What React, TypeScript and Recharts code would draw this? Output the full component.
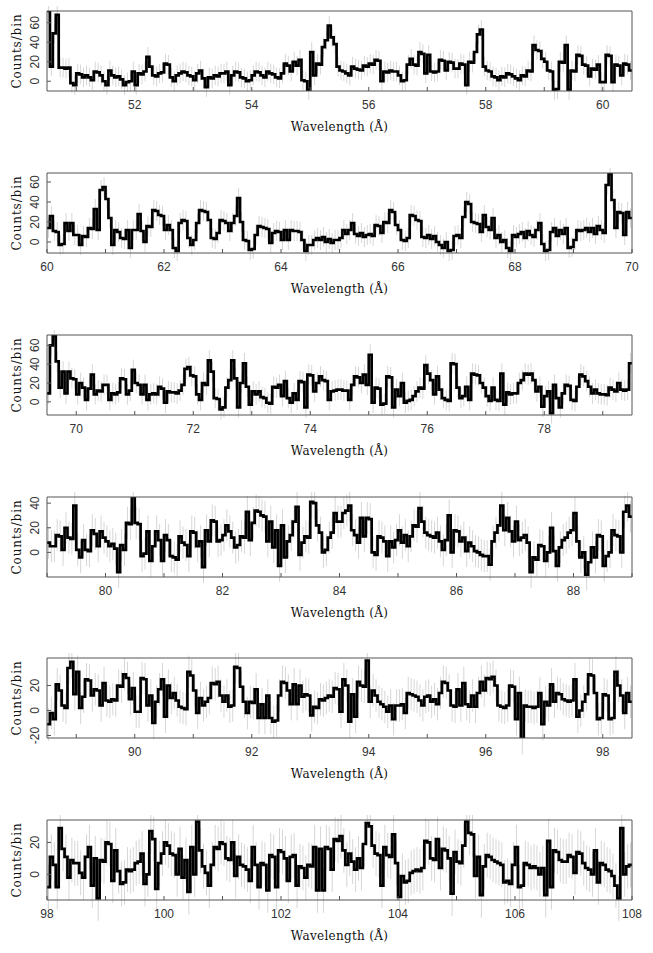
import React from 'react';
import { ComposedChart, Line, XAxis, YAxis, ErrorBar } from 'recharts';

const BIN = 0.05;
const SPAN = 10;

const starts = [50.5, 60, 69.5, 79, 88.5, 98];
const yDomains = [[-10, 72], [-11, 69], [-14, 71], [-20, 45], [-22, 42], [-16, 34]];
const errSizes = [10, 10, 11, 13, 13, 14];
const xLabelTicks = [
  [52, 54, 56, 58, 60],
  [60, 62, 64, 66, 68, 70],
  [70, 72, 74, 76, 78],
  [80, 82, 84, 86, 88],
  [90, 92, 94, 96, 98],
  [98, 100, 102, 104, 106, 108],
];
const yLabelTicks = [[0, 20, 40, 60], [0, 20, 40, 60], [0, 20, 40, 60], [0, 20, 40], [-20, 0, 20], [0, 20]];
const panelTops = [11, 173, 335, 497, 658, 820];

const counts1 = [
  72, 15, 49, 68, 14, 14, 13, 14, -2, -4,
  8, 7, 4, 6, 4, 1, 10, 9, 6, 0,
  -4, 11, 6, 4, 5, 2, -4, -1, 0, 10,
  -4, 8, 7, 10, 25, 15, 6, 5, 8, 9,
  18, 17, 4, 0, 6, 8, 10, 9, 6, 5,
  1, 8, 11, 3, -6, 4, 3, 6, 5, 8,
  8, 10, -4, 6, 10, 9, 4, 3, 0, 1,
  6, 10, 9, 6, 4, 10, 8, 7, 4, 3,
  8, 18, 16, 10, 20, 16, 22, 1, 0, -9,
  30, 6, 18, 17, 35, 42, 57, 45, 38, 15,
  11, 10, 8, 6, 15, 13, 12, 11, 16, 15,
  18, 17, 22, 21, 0, 10, 9, 11, 10, 10,
  6, 0, 1, 17, 23, 17, 16, 30, 28, 8,
  27, 10, 9, 10, 22, 21, 11, 20, 19, 13,
  13, 18, 17, -4, 20, 19, 30, 48, 53, 15,
  11, 10, 5, 4, 1, 5, 4, 8, 7, 5,
  3, 1, 6, 5, 11, 10, 37, 32, 31, 23,
  20, 11, 10, -9, -8, 20, 19, 37, -9, 11,
  10, 27, 26, 17, 16, 5, 13, 12, 17, -1,
  -1, 27, 26, -1, 17, 16, 6, 18, 17, 11,
];
const counts2 = [
  14, 26, 11, 10, -3, -2, 19, 11, 19, 7,
  7, -3, 6, 5, 14, 13, 33, 12, 52, 55,
  43, 24, -3, 12, 10, 4, 3, 12, -6, 12,
  12, 28, 11, 0, 16, 15, 32, 31, 27, 26,
  12, 17, 12, -6, -9, 19, 22, 21, 4, -3,
  2, 19, 32, 31, 30, 22, 4, 3, 9, 22,
  21, 19, 11, 19, 26, 44, 20, 2, 1, -8,
  -7, 7, 16, 15, 14, 13, -1, 9, 11, 10,
  2, 12, 2, 12, 11, 11, 10, 2, -9, -3,
  -3, 2, 4, 2, 5, 0, 3, -1, 2, 2,
  4, 12, 8, 12, 19, 8, 6, 9, 5, 7,
  8, 6, 17, 16, 9, 20, 19, 32, 30, 17,
  12, 2, 1, 4, 27, 26, 22, 21, 5, 4,
  7, 3, 6, 0, -3, -6, 0, -9, -8, 6,
  7, 4, 25, 40, 38, 20, 19, 18, 10, 27,
  15, 12, 24, 4, 7, 0, 2, -6, -9, 7,
  5, 8, 10, 4, 11, 7, 5, 12, 19, -2,
  -9, -8, 10, 14, 6, 12, 8, 14, -6, -5,
  2, 12, 11, 12, 14, 10, 14, 8, 16, 12,
  9, 57, 68, 42, 14, 30, 29, 7, 30, 24,
];
const counts3 = [
  9, 60, 70, 43, 15, 32, 9, 32, 25, 24,
  8, 20, 15, 2, 14, 29, 8, 12, 11, 18,
  18, 2, 9, 8, 10, 25, 24, 8, 12, 34,
  20, 18, 8, 18, 2, 8, 9, 8, 16, 14,
  -1, 11, 10, 10, 9, 12, 18, 35, 37, 28,
  27, 8, 2, 20, 18, 44, 32, 4, 3, -8,
  -6, 15, 23, 44, 25, -6, 20, 41, 16, -3,
  11, 8, 11, 5, 4, -1, -2, 16, 15, 18,
  6, 22, 4, -1, 9, 2, 22, 21, -6, 29,
  28, 11, 20, 27, 23, 22, 2, 11, 12, 13,
  13, 12, 12, 2, 18, 27, 26, 20, 29, 18,
  50, -1, 15, 14, -3, -2, 27, 26, -6, 13,
  6, 20, -1, 1, 2, 6, 11, 15, 14, 39,
  30, 23, 8, 27, 13, 4, 2, 1, 41, 40,
  15, 4, 6, 16, 2, 30, 29, 28, 20, 15,
  6, 1, 15, 2, 1, 30, -3, 10, 8, 9,
  9, 20, 23, 30, 29, 30, 23, 11, 16, -5,
  6, 11, -12, 18, 4, -6, 9, 18, 17, 2,
  1, 16, 29, 27, 22, 16, 9, 13, 9, 8,
  8, 7, 15, 13, 11, 20, 13, 12, 13, 41,
];
const counts4 = [
  8, 5, 5, 14, 13, 2, 20, 12, 11, 38,
  2, -4, 10, 2, 1, 18, 15, 5, 17, 12,
  9, 5, 7, 3, -16, 6, 2, 24, 23, 45,
  24, 23, -3, -1, 17, -7, 5, 17, 10, -7,
  14, 10, -3, -4, -6, 13, 8, 6, -3, 17,
  16, 5, 9, -12, 18, 9, 26, 25, 9, 10,
  14, 22, 17, 12, 4, 6, 13, 12, 33, 10,
  24, 34, 33, 30, 29, 9, 25, 4, 18, -11,
  22, -4, 9, 14, 25, 37, -2, 8, 13, 12,
  41, 40, 22, 16, 0, 2, 12, 16, 32, 25,
  25, 32, 34, 38, 18, 14, 8, 28, 13, 28,
  27, 0, -2, 13, 12, 9, -3, 9, 4, 10,
  18, 8, 14, 5, 13, 22, 21, 36, 25, 16,
  14, 13, 12, 16, 9, 2, 10, 30, 0, 18,
  17, 9, 12, 1, 8, 5, 1, 0, -2, -3,
  -3, -10, 9, 16, 22, 38, 18, 28, 17, 9,
  25, 10, 12, 14, 8, -16, -4, -6, 6, 5,
  -7, 0, 20, 1, -11, 4, 10, 12, 16, 18,
  32, 9, -4, 0, -18, -8, 4, -4, 14, 13,
  -11, -3, 0, 18, 14, 13, 0, 33, 38, 29,
];
const counts5 = [
  -11, -2, -7, 21, 16, 4, 2, 34, 39, 13,
  31, 2, 11, 25, 24, 12, 17, 16, 4, 22,
  8, 7, 9, 8, 20, 19, 29, 26, 9, 18,
  -1, -1, 26, 25, 4, 12, -10, 7, 17, 25,
  -5, 20, 10, 14, 8, 3, 2, 1, 31, 28,
  16, -2, 10, 4, 7, 10, 22, 21, 23, 12,
  7, 12, 3, 4, 35, 34, 19, 7, -2, 7,
  6, 17, -6, 5, -6, 12, -6, -9, -8, 12,
  23, 22, 16, 5, 21, 5, 20, 11, 13, 12,
  -4, 3, 2, 9, 8, 10, 12, 11, 18, 17,
  -1, 25, 20, -9, 13, -5, 23, 20, 19, 40,
  7, 16, 12, 7, 5, 3, -1, 4, -7, 4,
  4, 5, -2, 14, 13, 12, 11, 8, 4, 11,
  12, 7, 9, 5, 14, 23, 22, 16, 4, 3,
  17, 4, 22, 5, 3, 12, 3, 14, 23, 16,
  26, 25, 27, 20, 4, 3, 2, 4, 20, 19,
  -7, 14, -22, 4, 3, 3, 2, 3, 14, -11,
  7, 4, 21, 7, 14, 13, 9, 8, 7, 8,
  25, -5, 0, 7, 13, 29, 28, 14, -7, -6,
  13, 12, -7, -6, 31, 20, 12, -2, 14, 7,
];
const counts6 = [
  -8, 11, 6, -8, 29, 16, 11, -2, 9, 7,
  7, 1, -2, 11, 17, -7, 10, -15, 9, 8,
  20, 19, -4, 15, 2, -6, -5, 3, 2, 3,
  7, 8, 13, -6, 0, 27, 22, -9, 7, 13,
  20, 18, 13, 12, 0, 16, -2, 9, -11, 17,
  0, 33, 15, 5, 1, -7, 6, 17, 16, 20,
  19, 10, 9, 20, -1, 11, 6, 5, 3, -4,
  17, 6, -8, 7, 6, -10, 12, 11, -8, 15,
  14, 10, -4, 11, 12, -7, 5, 4, -2, 6,
  5, 17, -10, 16, -10, 17, 16, 3, 22, 21,
  24, 15, 6, 13, 8, 3, 10, 4, 19, 32,
  30, 18, 13, 12, -7, 17, 12, 11, 25, 7,
  -14, -1, -5, -4, 1, 2, 3, 2, 4, 21,
  20, 10, 9, 22, 4, 16, 15, 10, -12, 14,
  8, 7, 18, 33, 26, 25, -1, 11, -13, 5,
  12, 11, 9, 8, 7, 6, -5, -4, -6, 6,
  17, -8, -7, 7, 6, 4, 5, 4, 0, 4,
  -13, 21, -8, 15, 14, 9, 8, 8, 12, 11,
  1, 14, 13, 7, 4, 3, 0, 15, -5, 7,
  6, 3, 2, -1, -7, -15, 29, 0, 5, 6,
];
const allCounts = [counts1, counts2, counts3, counts4, counts5, counts6];

const MT = 4;
const TOP_AXIS_H = 1;
const PLOT_H = 80;
const BOTTOM_AXIS_H = 46;
const CHART_W = 653;
const AXIS_COLOR = '#555';
const TICK_FONT = '"Liberation Sans", Arial, sans-serif';
const TITLE_FONT = '"DejaVu Serif", serif';

function buildRows(start: number, values: number[], err: number) {
  const rows: { x: number; y: number; e: number }[] = [];
  rows.push({ x: start, y: values[0], e: 0 });
  values.forEach((v, i) => rows.push({ x: start + (i + 0.5) * BIN, y: v, e: err }));
  rows.push({ x: start + values.length * BIN, y: values[values.length - 1], e: 0 });
  return rows;
}

function integerTicks(start: number) {
  const out: number[] = [];
  for (let k = Math.ceil(start); k <= start + SPAN + 1e-9; k++) out.push(k);
  return out;
}

function Panel({ idx }: { idx: number }) {
  const start = starts[idx];
  const data = buildRows(start, allCounts[idx], errSizes[idx]);
  const xDomain = [start, start + SPAN];
  const yDomain = yDomains[idx];
  const xTicks = integerTicks(start);
  const labels = xLabelTicks[idx];

  const xTick = (p: any) => {
    if (!labels.includes(p.payload.value)) return <g />;
    return (
      <text x={p.x} y={p.y} dy="0.71em" textAnchor="middle" fontSize={12} fontFamily={TICK_FONT} fill="#333">
        {p.payload.value}
      </text>
    );
  };
  const yTick = (p: any) => (
    <text
      x={p.x}
      y={p.y}
      transform={`rotate(-90 ${p.x} ${p.y})`}
      textAnchor="middle"
      fontSize={12}
      fontFamily={TICK_FONT}
      fill="#333"
    >
      {p.payload.value}
    </text>
  );
  const xTitle = (p: any) => {
    const vb = p.viewBox || {};
    return (
      <text x={vb.x + vb.width / 2} y={vb.y + 40} textAnchor="middle" fontSize={12} letterSpacing={0.3} fontFamily={TITLE_FONT} fill="#111">
        Wavelength (Å)
      </text>
    );
  };
  const yTitle = (p: any) => {
    const vb = p.viewBox || {};
    const cx = vb.x + 14;
    const cy = vb.y + vb.height / 2;
    return (
      <text x={cx} y={cy} transform={`rotate(-90 ${cx} ${cy})`} textAnchor="middle" fontSize={12} letterSpacing={0.9} fontFamily={TITLE_FONT} fill="#111">
        Counts/bin
      </text>
    );
  };

  return (
    <div style={{ position: 'absolute', left: 0, top: panelTops[idx] - MT - TOP_AXIS_H }}>
      <ComposedChart
        width={CHART_W}
        height={MT + TOP_AXIS_H + PLOT_H + BOTTOM_AXIS_H}
        data={data}
        margin={{ top: MT, right: 20, bottom: 0, left: 7 }}
      >
        <XAxis
          xAxisId="b"
          dataKey="x"
          type="number"
          domain={xDomain}
          allowDataOverflow
          ticks={xTicks}
          interval={0}
          tickSize={-4}
          tickMargin={13}
          tick={xTick}
          axisLine={{ stroke: AXIS_COLOR }}
          tickLine={{ stroke: AXIS_COLOR }}
          height={BOTTOM_AXIS_H}
          label={xTitle}
        />
        <XAxis
          xAxisId="t"
          orientation="top"
          dataKey="x"
          type="number"
          domain={xDomain}
          allowDataOverflow
          ticks={xTicks}
          interval={0}
          tickSize={-4}
          tick={false}
          axisLine={{ stroke: AXIS_COLOR }}
          tickLine={{ stroke: AXIS_COLOR }}
          height={TOP_AXIS_H}
        />
        <YAxis
          yAxisId="l"
          type="number"
          domain={yDomain}
          allowDataOverflow
          ticks={yLabelTicks[idx]}
          interval={0}
          tickSize={-4}
          tickMargin={12.4}
          tick={yTick}
          axisLine={{ stroke: AXIS_COLOR }}
          tickLine={{ stroke: AXIS_COLOR }}
          width={40}
          label={yTitle}
        />
        <YAxis
          yAxisId="r"
          orientation="right"
          type="number"
          domain={yDomain}
          allowDataOverflow
          ticks={yLabelTicks[idx]}
          interval={0}
          tickSize={-4}
          tick={false}
          axisLine={{ stroke: AXIS_COLOR }}
          tickLine={{ stroke: AXIS_COLOR }}
          width={1}
        />
        <Line
          xAxisId="t"
          yAxisId="r"
          dataKey="y"
          stroke="none"
          dot={false}
          activeDot={false}
          isAnimationActive={false}
        >
          <ErrorBar dataKey="e" width={0} stroke="#d6d6d6" strokeWidth={1} direction="y" />
        </Line>
        <Line
          xAxisId="b"
          yAxisId="l"
          type="step"
          dataKey="y"
          stroke="#000"
          strokeWidth={2.7}
          dot={false}
          activeDot={false}
          isAnimationActive={false}
        />
      </ComposedChart>
    </div>
  );
}

export default function App() {
  return (
    <div style={{ position: 'absolute', left: 0, top: 0, width: 653, height: 953, background: '#fff' }}>
      {starts.map((_, i) => (
        <Panel key={i} idx={i} />
      ))}
    </div>
  );
}
